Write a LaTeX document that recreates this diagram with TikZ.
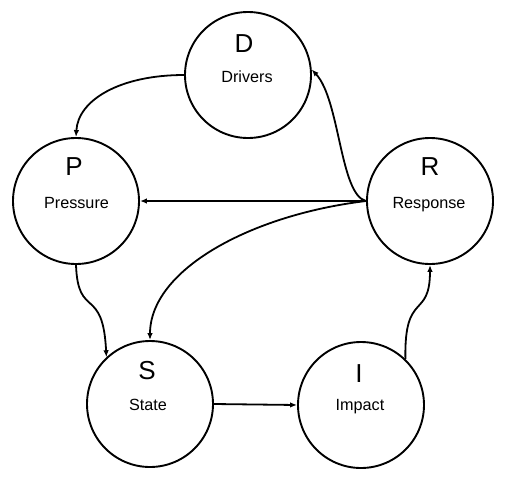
\documentclass[tikz,border=0pt]{standalone}
\usepackage{fontspec}
\setmainfont{Liberation Sans}
\usetikzlibrary{arrows.meta}
\begin{document}
\begin{tikzpicture}[x=1pt,y=-1pt,
  stage/.style={circle,draw,line width=1.9pt,minimum size=126pt,inner sep=0pt},
  big/.style={font=\fontsize{26}{26}\selectfont,anchor=base,inner sep=0pt},
  small/.style={font=\fontsize{16.2}{16}\selectfont,anchor=base,inner sep=0pt},
  link/.style={line width=1.8pt,-{Latex[length=7pt,width=5.5pt]}}]
\useasboundingbox[fill=white] (0,0) rectangle (509,483);
\node[stage] (D) at (248,75) {};
\node[stage] (P) at (76,201) {};
\node[stage] (R) at (430,201) {};
\node[stage] (S) at (150,404) {};
\node[stage] (I) at (361,405) {};
\node[big] (Dl) at (244,52) {D};
\node[small] (Dt) at (247,82) {Drivers};
\node[big] (Pl) at (74,175) {P};
\node[small] (Pt) at (76.5,208) {Pressure};
\node[big] (Rl) at (430,175) {R};
\node[small] (Rt) at (429,208) {Response};
\node[big] (Sl) at (147,379) {S};
\node[small] (St) at (148,410) {State};
\node[big] (Il) at (359,382) {I};
\node[small] (It) at (360,410) {Impact};
\draw[link] (D.180) .. controls (120,75) and (78,100) .. (P.90);
\draw[link] (R.180) .. controls (340,195) and (340,100) .. (D.5);
\draw[link] (R.180) -- (P.0);
\draw[link] (R.180) .. controls (250,215) and (150,270) .. (S.90);
\draw[link] (P.270) .. controls (78,320) and (103,285) .. (S.133);
\draw[link] (S.0) -- (I.180);
\draw[link] (I.46) .. controls (404,290) and (430,320) .. (R.270);
\end{tikzpicture}
\end{document}
